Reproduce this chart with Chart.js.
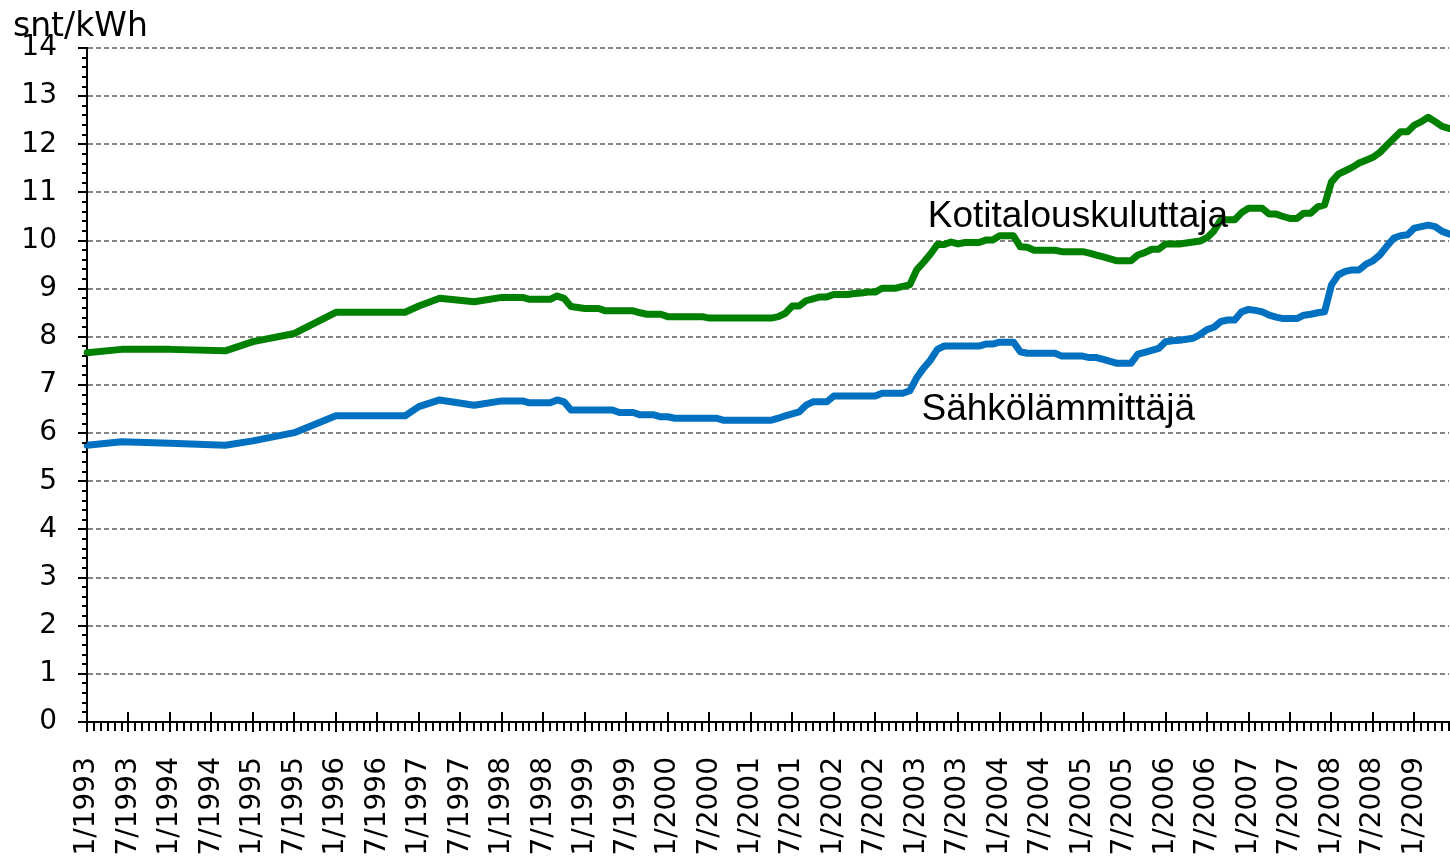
<!DOCTYPE html>
<html lang="fi">
<head>
<meta charset="utf-8">
<title>Sähkön hinta</title>
<script src="https://cdn.jsdelivr.net/npm/chart.js@4"></script>
<style>
  html, body { margin: 0; padding: 0; background: #ffffff; }
  canvas { display: block; }
</style>
</head>
<body>
<canvas id="chart" width="1450" height="860"></canvas>
<script>
const years = [1993, 1994, 1995, 1996, 1997, 1998, 1999, 2000, 2001, 2002, 2003, 2004, 2005, 2006, 2007, 2008, 2009];
const lastMonth = "6/2009";

// kotitalouskuluttaja, snt/kWh (null = ei havaintoa)
const kotitalous = [
  7.67, null, null, null, null, 7.74, null, null, null, null, null, null,
  7.74, null, null, null, null, null, null, null, 7.71, null, null, null,
  7.90, null, null, null, null, null, 8.07, null, null, null, null, null,
  8.51, null, null, null, null, null, null, null, null, null, 8.51, null,
  8.64, null, null, 8.80, null, null, null, null, 8.73, null, null, null,
  8.82, 8.82, 8.82, 8.82, 8.78, 8.78, 8.78, 8.78, 8.85, 8.80, 8.63, 8.61,
  8.59, 8.59, 8.59, 8.54, 8.54, 8.54, 8.54, 8.54, 8.50, 8.47, 8.47, 8.47,
  8.42, 8.42, 8.42, 8.42, 8.42, 8.42, 8.39, 8.39, 8.39, 8.39, 8.39, 8.39,
  8.39, 8.39, 8.39, 8.39, 8.42, 8.49, 8.64, 8.64, 8.75, 8.79, 8.83, 8.83,
  8.88, 8.88, 8.88, 8.90, 8.91, 8.93, 8.93, 9.01, 9.01, 9.01, 9.05, 9.08,
  9.39, 9.55, 9.72, 9.92, 9.92, 9.97, 9.93, 9.96, 9.96, 9.96, 10.01, 10.01,
  10.10, 10.10, 10.10, 9.87, 9.86, 9.80, 9.80, 9.80, 9.80, 9.77, 9.77, 9.77,
  9.77, 9.74, 9.70, 9.66, 9.62, 9.58, 9.58, 9.58, 9.70, 9.75, 9.82, 9.82,
  9.93, 9.93, 9.93, 9.95, 9.97, 9.99, 10.06, 10.20, 10.43, 10.43, 10.43, 10.58,
  10.67, 10.67, 10.67, 10.55, 10.55, 10.50, 10.46, 10.46, 10.57, 10.57, 10.70, 10.74,
  11.22, 11.38, 11.45, 11.52, 11.61, 11.67, 11.73, 11.83, 11.98, 12.12, 12.26, 12.26,
  12.40, 12.47, 12.56, 12.47, 12.37, 12.33
];

// sähkölämmittäjä, snt/kWh
const sahkolammitys = [
  5.75, null, null, null, null, 5.82, null, null, null, null, null, null,
  5.79, null, null, null, null, null, null, null, 5.75, null, null, null,
  5.84, null, null, null, null, null, 6.01, null, null, null, null, null,
  6.36, null, null, null, null, null, null, null, null, null, 6.36, null,
  6.55, null, null, 6.69, null, null, null, null, 6.58, null, null, null,
  6.67, 6.67, 6.67, 6.67, 6.63, 6.63, 6.63, 6.63, 6.69, 6.65, 6.48, 6.48,
  6.48, 6.48, 6.48, 6.48, 6.48, 6.43, 6.43, 6.43, 6.38, 6.38, 6.38, 6.34,
  6.34, 6.31, 6.31, 6.31, 6.31, 6.31, 6.31, 6.31, 6.27, 6.27, 6.27, 6.27,
  6.27, 6.27, 6.27, 6.27, 6.31, 6.36, 6.40, 6.44, 6.58, 6.65, 6.65, 6.65,
  6.77, 6.77, 6.77, 6.77, 6.77, 6.77, 6.77, 6.83, 6.83, 6.83, 6.83, 6.88,
  7.15, 7.35, 7.52, 7.74, 7.81, 7.81, 7.81, 7.81, 7.81, 7.81, 7.85, 7.85,
  7.89, 7.89, 7.89, 7.69, 7.66, 7.66, 7.66, 7.66, 7.66, 7.60, 7.60, 7.60,
  7.60, 7.57, 7.57, 7.53, 7.49, 7.45, 7.45, 7.45, 7.64, 7.68, 7.72, 7.76,
  7.90, 7.92, 7.93, 7.95, 7.97, 8.05, 8.15, 8.20, 8.32, 8.35, 8.35, 8.52,
  8.57, 8.55, 8.52, 8.45, 8.41, 8.38, 8.38, 8.38, 8.45, 8.47, 8.50, 8.52,
  9.08, 9.29, 9.36, 9.39, 9.39, 9.51, 9.58, 9.70, 9.88, 10.05, 10.10, 10.12,
  10.26, 10.29, 10.32, 10.29, 10.19, 10.14
];

const seriesNames = ["Kotitalouskuluttaja", "Sähkölämmittäjä"];
const yTicks = [0, 1, 2, 3, 4, 5, 6, 7, 8, 9, 10, 11, 12, 13, 14];
const unitLabel = "snt/kWh";

// kuukaudet 1/1993 ... 6/2009
const months = [];
for (const year of years) {
  for (let m = 1; m <= 12; m++) {
    months.push(`${m}/${year}`);
    if (`${m}/${year}` === lastMonth) break;
  }
}

// tekstien ankkurit arvoina (kuukausi-indeksi, snt/kWh)
const seriesLabelAnchors = [
  { text: seriesNames[0], month: 121.6, value: 10.29 },
  { text: seriesNames[1], month: 120.7, value: 6.27 },
];

const axisTicksPlugin = {
  id: "axisTicks",
  afterDraw(chart) {
    const { ctx, chartArea, scales } = chart;
    const x = scales.x;
    const y = scales.y;
    ctx.save();
    ctx.strokeStyle = "#000000";
    ctx.lineWidth = 2;
    ctx.beginPath();
    for (let k = 0; k <= yTicks[yTicks.length - 1] * 5; k++) {
      const py = Math.round(y.getPixelForValue(k / 5));
      const len = k % 5 === 0 ? 9 : 5;
      ctx.moveTo(chartArea.left - len, py);
      ctx.lineTo(chartArea.left, py);
    }
    for (let i = 0; i < months.length; i++) {
      const px = Math.round(x.getPixelForValue(i));
      if (i % 6 === 0) {
        ctx.moveTo(px, chartArea.bottom - 10);
        ctx.lineTo(px, chartArea.bottom + 10);
      } else {
        ctx.moveTo(px, chartArea.bottom);
        ctx.lineTo(px, chartArea.bottom + 9);
      }
    }
    ctx.stroke();

    ctx.fillStyle = "#000000";
    ctx.textAlign = "left";
    ctx.textBaseline = "alphabetic";
    ctx.font = "33px 'DejaVu Sans'";
    ctx.fillText(unitLabel, 13, 36);

    ctx.font = "37px 'Liberation Sans'";
    seriesLabelAnchors.forEach((a) => {
      ctx.fillText(a.text, x.getPixelForValue(a.month), y.getPixelForValue(a.value));
    });
    ctx.restore();
  },
};

new Chart(document.getElementById("chart"), {
  type: "line",
  data: {
    labels: months,
    datasets: [
      {
        label: seriesNames[0],
        data: kotitalous,
        borderColor: "#008000",
        backgroundColor: "#008000",
        borderWidth: 7,
      },
      {
        label: seriesNames[1],
        data: sahkolammitys,
        borderColor: "#0070C0",
        backgroundColor: "#0070C0",
        borderWidth: 7,
      },
    ],
  },
  options: {
    responsive: false,
    animation: false,
    devicePixelRatio: 1,
    layout: { padding: { top: 48, right: 1, left: 0, bottom: 0 } },
    elements: {
      line: { tension: 0, borderJoinStyle: "round", borderCapStyle: "round" },
      point: { radius: 0, hoverRadius: 0 },
    },
    spanGaps: true,
    plugins: {
      legend: { display: false },
      tooltip: { enabled: false },
      title: { display: false },
    },
    scales: {
      x: {
        type: "category",
        offset: false,
        grid: { display: false, drawTicks: false },
        border: { display: true, color: "#000000", width: 2 },
        ticks: {
          autoSkip: false,
          minRotation: 90,
          maxRotation: 90,
          padding: 35,
          color: "#000000",
          font: { family: "DejaVu Sans", size: 28 },
          callback: function (value, index) {
            return index % 6 === 0 ? this.getLabelForValue(value) : "";
          },
        },
        afterFit: (scale) => {
          scale.height = 138;
          scale.paddingLeft = 0;
          scale.paddingRight = 0;
        },
      },
      y: {
        min: yTicks[0],
        max: yTicks[yTicks.length - 1],
        grid: {
          drawTicks: false,
          color: (c) => (c.tick && c.tick.value === 0 ? "rgba(0,0,0,0)" : "#858585"),
          lineWidth: 2,
        },
        border: { display: true, color: "#000000", width: 2, dash: [5, 3] },
        ticks: {
          stepSize: 1,
          padding: 30,
          color: "#000000",
          font: { family: "DejaVu Sans", size: 28 },
        },
        afterFit: (scale) => {
          scale.width = 87;
        },
      },
    },
  },
  plugins: [axisTicksPlugin],
});
</script>
</body>
</html>
